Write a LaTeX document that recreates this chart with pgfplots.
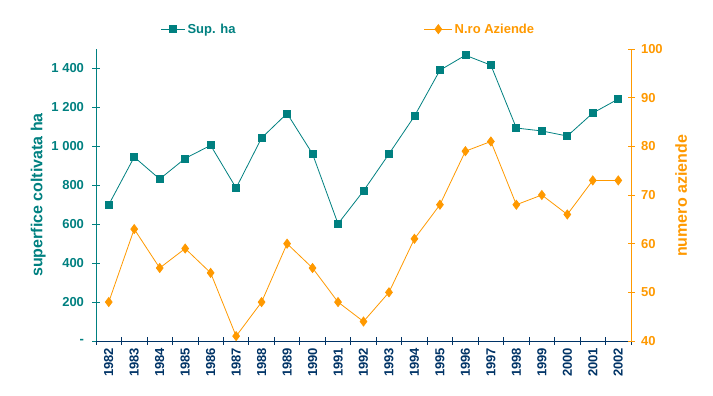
\documentclass[border=0pt]{standalone}
\usepackage{pgfplots}
\pgfplotsset{compat=1.18}
\usepackage{fontspec}
\setmainfont{Liberation Sans}
\definecolor{cteal}{HTML}{008080}
\definecolor{corange}{HTML}{FF9900}
\definecolor{cnavy}{HTML}{003366}
\newcommand{\tf}{\bfseries\fontsize{13bp}{15bp}\selectfont}
\newcommand{\lf}{\bfseries\fontsize{16bp}{19bp}\selectfont}
\pgfplotstableread{
x sup
0 700
1 945
2 832
3 938
4 1005
5 786
6 1043
7 1169
8 961
9 602
10 771
11 961
12 1155
13 1391
14 1468
15 1417
16 1094
17 1079
18 1053
19 1171
20 1243
}\suptable
\pgfplotstableread{
x az
0 48
1 63
2 55
3 59
4 54
5 41
6 48
7 60
8 55
9 48
10 44
11 50
12 61
13 68
14 79
15 81
16 68
17 70
18 66
19 73
20 73
}\aztable
\begin{document}
\begin{tikzpicture}
\path[use as bounding box] (0,0) rectangle (713bp,396bp);
\begin{axis}[
  at={(96bp,55bp)}, anchor=south west,
  scale only axis, width=535bp, height=292bp,
  xmin=-0.5, xmax=20.5, ymin=0, ymax=1500,
  axis x line*=bottom, axis y line*=left,
  x axis line style={cnavy, line width=0.8bp, -},
  y axis line style={cteal, line width=0.8bp, -},
  xtick={0,...,20},
  xticklabels={1982,1983,1984,1985,1986,1987,1988,1989,1990,1991,1992,1993,1994,1995,1996,1997,1998,1999,2000,2001,2002},
  major x tick style={draw=none},
  minor xtick={-0.5,0.5,...,20.5},
  minor x tick style={cnavy, line width=0.8bp},
  minor tick length=7bp,
  xtick align=center,
  ytick={0,200,...,1400},
  yticklabels={{-},200,400,600,800,{1 000},{1 200},{1 400}},
  y tick style={cteal, line width=0.8bp},
  major tick length=7bp,
  ytick align=center,
  ticklabel style={font=\tf},
  x tick label style={rotate=90, anchor=east, text=cnavy},
  y tick label style={text=cteal, xshift=-5bp},
  ylabel={superfice coltivata ha},
  every axis y label/.style={at={(axis description cs:-0.108,0.5)}, rotate=90, anchor=center, font=\lf, text=cteal},
  legend style={at={(axis description cs:0.115,1.068)}, anchor=west, draw=none, fill=none, font=\tf, text=cteal},
  legend image code/.code={\draw[mark repeat=2,mark phase=2,#1] plot coordinates {(0bp,0bp)(12bp,0bp)(24bp,0bp)};},
]
\addplot[cteal, line width=0.8bp, mark=square*, mark size=3.5bp, mark options={solid}] table[x=x,y=sup]{\suptable};
\addlegendentry{Sup. ha}
\end{axis}
\begin{axis}[
  at={(96bp,55bp)}, anchor=south west,
  scale only axis, width=535bp, height=292bp,
  xmin=-0.5, xmax=20.5, ymin=40, ymax=100,
  axis x line=none, axis y line*=right,
  y axis line style={corange, line width=0.8bp, -},
  ytick={40,50,...,100},
  yticklabels={40,50,60,70,80,90,100},
  y tick style={corange, line width=0.8bp},
  major tick length=7bp,
  ytick align=center,
  ticklabel style={font=\tf},
  y tick label style={text=corange, xshift=3bp},
  ylabel={numero aziende},
  every axis y label/.style={at={(axis description cs:1.0935,0.497)}, rotate=90, anchor=center, font=\lf, text=corange},
  legend style={at={(axis description cs:0.607,1.068)}, anchor=west, draw=none, fill=none, font=\tf, text=corange},
  legend image code/.code={\draw[mark repeat=2,mark phase=2,#1] plot coordinates {(0bp,0bp)(14bp,0bp)(28bp,0bp)};},
]
\addplot[corange, line width=0.8bp, mark=diamond*, mark size=4.5bp, mark options={solid}] table[x=x,y=az]{\aztable};
\addlegendentry{N.ro Aziende}
\end{axis}
\end{tikzpicture}
\end{document}
